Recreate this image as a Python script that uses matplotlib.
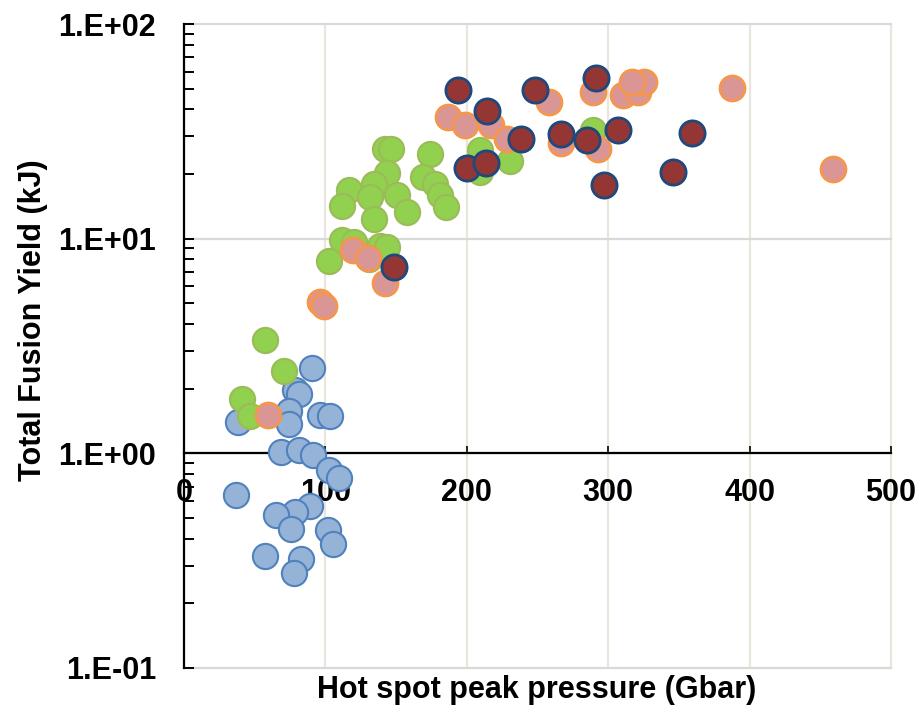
import matplotlib
matplotlib.use('Agg')
import matplotlib.pyplot as plt
from matplotlib.ticker import FixedLocator, FuncFormatter, LogLocator, NullFormatter

plt.rcParams['font.family'] = ['Liberation Sans', 'DejaVu Sans']
plt.rcParams['font.weight'] = 'bold'

# hot spot peak pressure (Gbar) vs total fusion yield (kJ), four groups of shots
blue_x = [38, 90.6, 78.8, 81.6, 74, 74, 96.5, 103, 68.9, 81.6, 91.3, 102.8,
          109.4, 36.6, 89.4, 78.3, 65.2, 76, 101.9, 105.7, 57.1, 83, 77.6]
blue_y = [1.40, 2.51, 1.98, 1.88, 1.57, 1.37, 1.51, 1.49, 1.01, 1.04, 0.986, 0.833,
          0.767, 0.641, 0.566, 0.532, 0.514, 0.446, 0.441, 0.378, 0.331, 0.322, 0.277]

green_x = [57.1, 71, 41.3, 47, 142.4, 146.6, 174, 143.6, 169, 177.7, 181.3, 185.3,
           117, 134.1, 131.8, 150.7, 111.8, 157.7, 134.1, 112, 120, 138.9, 143.6,
           102.3, 130.6, 289.6, 209.5, 230.7, 209.5]
green_y = [3.36, 2.43, 1.79, 1.50, 26.2, 26.2, 24.8, 20.2, 19.4, 18.0, 16.0, 14.0,
           16.9, 17.9, 15.7, 16.0, 14.2, 13.3, 12.3, 9.9, 9.7, 9.2, 9.1,
           7.86, 8.0, 32.0, 26.0, 23.0, 20.5]

pink_x = [59.5, 119.3, 129.9, 142.4, 96, 98.8, 186.7, 198.4, 217, 228.6, 258,
          289.4, 266.6, 293.1, 310.8, 321.4, 325, 316.7, 387.8, 459.2]
pink_y = [1.51, 8.9, 8.09, 6.22, 5.07, 4.84, 37.0, 33.7, 33.7, 29.0, 43.5,
          48.0, 28.0, 26.1, 46.9, 48.3, 53.9, 53.9, 50.1, 21.0]

red_x = [148.8, 193.5, 214, 248.2, 291.7, 238.3, 266.3, 284.8, 307.2, 200.2,
         213.3, 296.7, 359.6, 345.7]
red_y = [7.36, 49.3, 39.3, 49.1, 55.8, 29.2, 30.8, 28.8, 32.0, 21.4,
         22.6, 17.7, 31.1, 20.5]

x_ticks = [0, 100, 200, 300, 400, 500]
y_ticks = [0.1, 1, 10, 100]

fig = plt.figure(figsize=(9.18, 7.08), dpi=100)
ax = fig.add_axes([0.2004, 0.0565, 0.7702, 0.9096])

ms = 330
ax.scatter(blue_x, blue_y, s=ms, c='#95B3D7', edgecolors='#4F81BD', linewidths=1.5, zorder=3, clip_on=False)
ax.scatter(green_x, green_y, s=ms, c='#92D050', edgecolors='#9BBB59', linewidths=1.5, zorder=4, clip_on=False)
ax.scatter(pink_x, pink_y, s=ms, c='#DA9694', edgecolors='#F79646', linewidths=1.8, zorder=5, clip_on=False)
ax.scatter(red_x, red_y, s=ms, c='#943634', edgecolors='#1F497D', linewidths=2.0, zorder=6, clip_on=False)

ax.set_yscale('log')
ax.set_xlim(0, 500)
ax.set_ylim(0.1, 100)

ax.xaxis.set_major_locator(FixedLocator(x_ticks))
ax.yaxis.set_major_locator(FixedLocator(y_ticks))
ax.yaxis.set_minor_locator(LogLocator(base=10, subs=range(2, 10)))
ax.yaxis.set_minor_formatter(NullFormatter())
ax.yaxis.set_major_formatter(FuncFormatter(lambda v, _: f"{v:.0E}".replace('E', '.E')))

# x axis crosses at y = 1
ax.spines['bottom'].set_position(('data', 1))
ax.spines['top'].set_visible(False)
ax.spines['right'].set_visible(False)
ax.spines['bottom'].set_linewidth(1.6)
ax.spines['left'].set_linewidth(1.6)
ax.spines['bottom'].set_zorder(2)

ax.tick_params(axis='y', which='both', direction='in', length=7, width=1.4, pad=20,
               labelsize=22)
ax.tick_params(axis='x', which='major', direction='in', length=5, width=1.2, pad=18,
               labelsize=22)

ax.grid(axis='x', color='#EAE6DC', linewidth=1.6, zorder=0)
ax.grid(axis='y', which='major', color='#D9D9D9', linewidth=1.6, zorder=0)
for gl in ax.xaxis.get_gridlines() + ax.yaxis.get_gridlines():
    gl.set_clip_on(False)
ax.set_axisbelow(True)

fig.text(0.585, 0.025, 'Hot spot peak pressure (Gbar)', ha='center', va='center',
         fontsize=22, fontweight='bold')
fig.text(0.036, 0.548, 'Total Fusion Yield (kJ)', ha='center', va='center',
         rotation=90, fontsize=22, fontweight='bold')

fig.savefig('out.png', dpi=100)
